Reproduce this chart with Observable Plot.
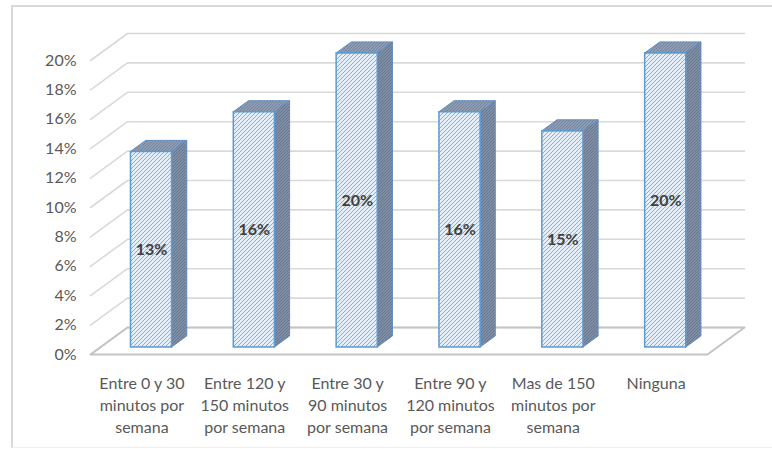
<!DOCTYPE html>
<html>
<head>
<meta charset="utf-8">
<script src="https://cdn.jsdelivr.net/npm/d3@7"></script>
<script src="https://cdn.jsdelivr.net/npm/@observablehq/plot@0.6"></script>
<style>
  body { margin: 0; background: #fff; }
  #wrap { position: relative; width: 772px; height: 449px; overflow: hidden; }
  #border { position: absolute; left: 11px; top: 5px; width: 800px; height: 440px;
            border-left: 2px solid #d9d9d9; border-top: 2px solid #d9d9d9; border-bottom: 1px solid #eeeeee; }
  #chart { position: absolute; left: 0; top: 0; }
</style>
</head>
<body>
<svg width="0" height="0" style="position:absolute">
  <defs>
    <!-- light blue diagonal hatch for the front faces -->
    <pattern id="hatchFront" patternUnits="userSpaceOnUse" width="4" height="4">
      <rect width="4" height="4" fill="#e3eef9"/>
      <path d="M-1,1 l2,-2 M0,4 l4,-4 M3,5 l2,-2" stroke="#80b0de" stroke-width="1"/>
    </pattern>
    <!-- dark grey-blue crosshatch for the side faces -->
    <pattern id="hatchSide" patternUnits="userSpaceOnUse" width="3" height="3">
      <rect width="3" height="3" fill="#7f8ea4"/>
      <path d="M0,3 l3,-3 M-1,1 l2,-2 M2,4 l2,-2" stroke="#617189" stroke-width="0.8"/>
    </pattern>
    <!-- slightly lighter crosshatch for the top faces -->
    <pattern id="hatchTop" patternUnits="userSpaceOnUse" width="3" height="3">
      <rect width="3" height="3" fill="#8e9db4"/>
      <path d="M0,3 l3,-3 M-1,1 l2,-2 M2,4 l2,-2" stroke="#6d7d96" stroke-width="0.8"/>
    </pattern>
  </defs>
</svg>
<div id="wrap">
  <div id="border"></div>
  <div id="chart"></div>
</div>
<script>
// Weekly physical activity categories and their share of respondents
const categories = [
  "Entre 0 y 30\nminutos por\nsemana",
  "Entre 120 y\n150 minutos\npor semana",
  "Entre 30 y\n90 minutos\npor semana",
  "Entre 90 y\n120 minutos\npor semana",
  "Mas de 150\nminutos por\nsemana",
  "Ninguna"
];
const shares = [0.133, 0.16, 0.20, 0.16, 0.147, 0.20];
const yTicks = [0, 0.02, 0.04, 0.06, 0.08, 0.10, 0.12, 0.14, 0.16, 0.18, 0.20];

const fmt = d3.format(".0%");

// Plot area (front plane of the pseudo-3D box)
const W = 772, H = 449;
const frontLeft = 90, frontRight = 707, frontTop = 60, frontBottom = 354;
const n = categories.length;
const yMax = 0.20;
const kx = (frontRight - frontLeft) / n;   // pixels per category
const ky = (frontBottom - frontTop) / yMax; // pixels per unit share

// Receding depth of the box, expressed in data units
const depthX = 37 / kx, depthY = 27 / ky;
// Bars sit between these fractions of the depth
const barNear = 0.26, barFar = 0.67, barWidth = 0.4;
const sd = barFar - barNear;

const bars = categories.map((c, i) => {
  const x1 = i + 0.5 - barWidth / 2 + barNear * depthX;
  const y1 = barNear * depthY;
  return {i, v: shares[i], x1, x2: x1 + barWidth, y1, y2: y1 + shares[i]};
});

const sideFaces = bars.flatMap(b => [
  {i: b.i, x: b.x2, y1: b.y1, y2: b.y2},
  {i: b.i, x: b.x2 + sd * depthX, y1: b.y1 + sd * depthY, y2: b.y2 + sd * depthY}
]);
const topFaces = bars.flatMap(b => [
  {i: b.i, y: b.y2, x1: b.x1, x2: b.x2},
  {i: b.i, y: b.y2 + sd * depthY, x1: b.x1 + sd * depthX, x2: b.x2 + sd * depthX}
]);

// Gridlines: diagonal on the side wall, then across the back wall
const grid = yTicks.flatMap(v => [
  {v, x: 0, y: v},
  {v, x: depthX, y: v + depthY},
  {v, x: n + depthX, y: v + depthY}
]);
const floor = [
  {x: 0, y: 0}, {x: n, y: 0}, {x: n + depthX, y: depthY}, {x: depthX, y: depthY}, {x: 0, y: 0}
];

const chart = Plot.plot({
  width: W,
  height: H,
  marginLeft: frontLeft,
  marginRight: W - frontRight,
  marginTop: frontTop,
  marginBottom: H - frontBottom,
  x: {type: "linear", domain: [0, n], axis: null},
  y: {domain: [0, yMax]},
  style: {
    fontFamily: "Lato, 'Open Sans', sans-serif",
    fontSize: "16px",
    color: "#595959",
    background: "transparent",
    overflow: "visible"
  },
  marks: [
    Plot.line(grid, {x: "x", y: "y", z: "v", stroke: "#d9d9d9", strokeWidth: 1.6}),
    Plot.line(floor, {x: "x", y: "y", stroke: "#c4c4c4", strokeWidth: 2}),
    Plot.areaY(sideFaces, {x: "x", y1: "y1", y2: "y2", z: "i", fill: "url(#hatchSide)",
      stroke: "#5f8cc2", strokeWidth: 1}),
    Plot.areaX(topFaces, {y: "y", x1: "x1", x2: "x2", z: "i", fill: "url(#hatchTop)",
      stroke: "#5f8cc2", strokeWidth: 1}),
    Plot.rect(bars, {x1: "x1", x2: "x2", y1: "y1", y2: "y2", fill: "url(#hatchFront)",
      stroke: "#5b9bd5", strokeWidth: 1.5}),
    Plot.text(bars, {x: d => (d.x1 + d.x2) / 2, y: d => d.y1 + d.v / 2, text: d => fmt(d.v),
      fontWeight: "bold", fill: "#404040", fontSize: 16}),
    Plot.text(categories, {x: (d, i) => i + 0.5, y: 0, text: d => d,
      lineAnchor: "top", dy: 19, lineHeight: 1.375, fill: "#595959", fontSize: 16}),
    Plot.axisY({ticks: yTicks, tickSize: 0, tickPadding: 14, tickFormat: fmt,
      label: null, fill: "#595959", fontSize: 16})
  ]
});

document.getElementById("chart").appendChild(chart);
</script>
</body>
</html>
